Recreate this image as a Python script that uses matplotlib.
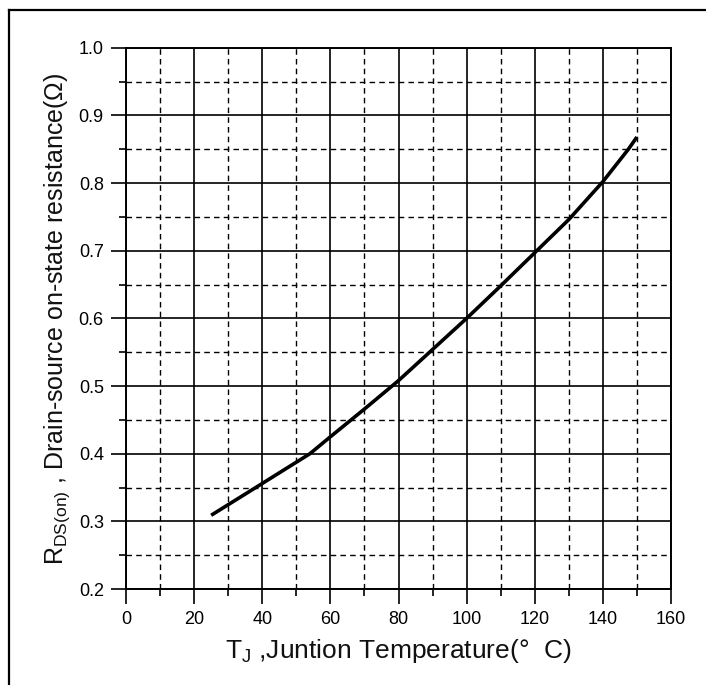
import matplotlib
matplotlib.use("Agg")
import matplotlib.pyplot as plt
from matplotlib.ticker import MultipleLocator
from matplotlib.lines import Line2D

plt.rcParams['font.family'] = ['Liberation Sans', 'DejaVu Sans']
plt.rcParams['mathtext.fontset'] = 'custom'
plt.rcParams['mathtext.rm'] = 'Liberation Sans'
plt.rcParams['mathtext.default'] = 'regular'

# Data
temp_c = [25, 40, 54, 60, 70, 80, 90, 100, 110, 120, 130, 140, 147.5, 150]
rds_on = [0.309, 0.356, 0.400, 0.425, 0.466, 0.508, 0.554, 0.600, 0.648, 0.697, 0.746, 0.802, 0.850, 0.868]

x_ticks = [0, 20, 40, 60, 80, 100, 120, 140, 160]
y_ticks = [0.2, 0.3, 0.4, 0.5, 0.6, 0.7, 0.8, 0.9, 1.0]

xlabel = r'T$_{J}$ ,Juntion Temperature(°  C)'
ylabel = r'R$_{DS(on)}$ , Drain-source on-state resistance(Ω)'

fig = plt.figure(figsize=(7.06, 6.85), dpi=100)
ax = fig.add_axes([0.1785, 0.1401, 0.7719, 0.7903])

ax.plot(temp_c, rds_on, color='black', lw=2.6, solid_capstyle='butt', zorder=3)

ax.set_xlim(0, 160)
ax.set_ylim(0.2, 1.0)
ax.set_xticks(x_ticks)
ax.set_yticks(y_ticks)
ax.set_xticklabels([str(v) for v in x_ticks])
ax.set_yticklabels(['%.1f' % v for v in y_ticks])
ax.xaxis.set_minor_locator(MultipleLocator(10))
ax.yaxis.set_minor_locator(MultipleLocator(0.05))

ax.grid(which='major', color='black', lw=1.2, ls='-')
ax.grid(which='minor', color='black', lw=1.0, ls=(0, (4, 3)))
ax.set_axisbelow(True)

ax.tick_params(which='major', direction='out', length=11, width=1.2, colors='black',
               labelsize=13, pad=5)
ax.tick_params(which='minor', direction='out', length=5, width=1.2, colors='black')
for s in ax.spines.values():
    s.set_linewidth(1.4)
    s.set_color('black')

ax.set_xlabel(xlabel, fontsize=19, labelpad=6, color='#111111')
ax.set_ylabel(ylabel, fontsize=18, labelpad=5, color='#111111')

# outer frame (left and top edges visible)
fig.add_artist(Line2D([9 / 706, 9 / 706], [0, 1 - 10 / 685], transform=fig.transFigure,
                      color='black', lw=1.6))
fig.add_artist(Line2D([9 / 706, 1], [1 - 10 / 685, 1 - 10 / 685], transform=fig.transFigure,
                      color='black', lw=1.6))

fig.savefig('out.png', dpi=100, facecolor='white')
